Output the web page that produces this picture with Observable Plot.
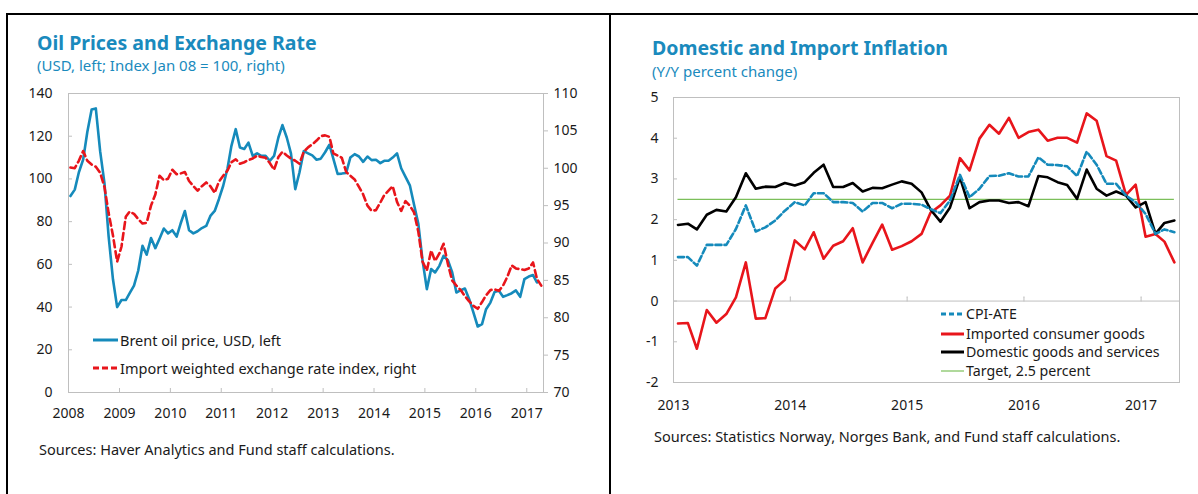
<!DOCTYPE html>
<html><head><meta charset="utf-8">
<script src="https://cdn.jsdelivr.net/npm/d3@7"></script>
<script src="https://cdn.jsdelivr.net/npm/@observablehq/plot@0.6"></script>
<style>
body{margin:0;background:#fff;font-family:"Noto Sans",sans-serif;color:#1a1a1a;}
#page{position:relative;width:1198px;height:494px;overflow:hidden;background:#fff;}
.bar{position:absolute;background:#000;}
.title{position:absolute;font-weight:bold;color:#1a8abd;font-size:19.5px;white-space:nowrap;line-height:1;}
.sub{position:absolute;color:#1a8abd;font-size:15px;white-space:nowrap;line-height:1;}
.src{position:absolute;font-size:14.5px;white-space:nowrap;line-height:1;color:#1a1a1a;}
.chart{position:absolute;}
.item{position:absolute;display:flex;align-items:center;white-space:nowrap;line-height:1;}
.item svg{display:block;margin-right:2px;}
</style>
</head><body>
<div id="page"></div>
<script>
// ---------------- data ----------------
// Left: monthly, starting January 2008
const oilStart = [2008, 0];
const brentOil = [92,95,103,109,122,132.5,133,113,98,73,53,40,
  43.3,43.3,46.5,50,57,68.7,64.5,72.3,67.6,72,76.8,74.5,
  76,73,79,85,76,74.5,75.5,77,78,82.7,85,90.5,
  96.8,105,115.5,123.3,114.7,114,117,110.8,112,110.8,110.8,108.5,
  110.8,119.4,125.2,119.4,112,95.2,103,113,112,111,109,109.5,
  112.5,116,109.5,102.3,102.5,102.8,110,111.6,110.5,108,110.5,108.8,
  109,107.4,108.5,108.5,110,112,105,101,97,88,79,62,
  48.4,57.8,56.2,59.3,64,62,56.5,46.8,47.9,48.7,43.7,37.5,
  30.9,32,39,42.1,47.1,47.6,44.8,45.6,46.5,47.8,44.8,53.1,
  54.3,55,51.5];
const exchangeRate = [100.1,100.0,101.0,102.3,101.0,100.5,100.2,99.4,97.5,94.0,91.0,87.5,
  89.5,93.5,94.2,93.9,93.2,92.6,92.7,95.0,96.5,99.0,98.4,98.6,
  99.8,99.2,99.3,99.5,98.3,97.6,97.0,97.6,98.1,97.6,96.7,98.2,
  99.0,99.7,100.8,101.2,100.6,100.8,101.1,101.3,101.7,101.5,101.4,100.7,
  99.8,101.5,102.2,101.7,101.3,101.0,100.6,102.2,102.8,103.2,103.7,104.3,
  104.4,104.2,102.0,101.7,101.4,99.5,99.0,98.5,97.5,96.5,95.0,94.3,
  94.4,95.4,96.4,97.0,97.6,95.5,94.3,95.6,95.0,94.1,91.5,87.5,
  86.3,89.0,87.6,88.6,89.9,87.2,85.0,84.3,83.7,82.9,82.2,81.6,
  81.2,82.1,83.0,83.7,83.8,83.6,84.3,85.5,87.0,86.6,86.5,86.4,
  86.6,87.4,85.2,84.3];
const leftYears = [2008,2009,2010,2011,2012,2013,2014,2015,2016,2017];
const leftDomainEnd = [2017, 4];
const oilTicks = [0,20,40,60,80,100,120,140];
const rateTicks = [70,75,80,85,90,95,100,105,110];

// Right: monthly, starting January 2013
const inflStart = [2013, 0];
const cpiAte = [1.08,1.08,0.87,1.38,1.38,1.38,1.77,2.35,1.71,1.81,1.98,2.22,
  2.43,2.35,2.65,2.65,2.43,2.43,2.41,2.20,2.41,2.41,2.28,2.39,
  2.39,2.37,2.26,2.16,2.47,3.10,2.55,2.76,3.07,3.08,3.14,3.06,
  3.06,3.53,3.35,3.34,3.31,3.07,3.67,3.35,2.88,2.88,2.59,2.43,
  2.14,1.65,1.76,1.69];
const importedGoods = [-0.55,-0.54,-1.17,-0.22,-0.53,-0.32,0.09,0.95,-0.43,-0.42,0.31,0.52,
  1.49,1.27,1.69,1.04,1.36,1.47,1.79,0.95,1.43,1.88,1.26,1.35,
  1.47,1.65,2.17,2.35,2.59,3.51,3.21,3.99,4.33,4.11,4.50,4.01,
  4.15,4.21,3.94,4.01,4.01,3.89,4.61,4.43,3.56,3.45,2.61,2.86,
  1.58,1.65,1.46,0.95];
const domesticGoods = [1.87,1.90,1.76,2.12,2.24,2.20,2.55,3.14,2.76,2.81,2.80,2.90,
  2.84,2.92,3.15,3.35,2.80,2.80,2.90,2.69,2.78,2.77,2.86,2.94,
  2.88,2.67,2.25,1.95,2.30,3.04,2.28,2.43,2.47,2.47,2.41,2.43,
  2.33,3.07,3.04,2.92,2.85,2.51,3.23,2.76,2.59,2.69,2.59,2.30,
  2.43,1.65,1.92,1.98];
const target = 2.5;
const rightYears = [2013,2014,2015,2016,2017];
const rightDomainEnd = [2017, 4];
const inflTicks = [-2,-1,0,1,2,3,4,5];

// ---------------- helpers ----------------
const monthDate = (start, i) => new Date(Date.UTC(start[0], start[1] + i, 15));
const yearDate = y => new Date(Date.UTC(y, 0, 1));
const toRows = (start, arr) => arr.map((v, i) => ({date: monthDate(start, i), value: v}));
const yearFmt = d => String(d.getUTCFullYear());

const BLUE = "#158abb", RED = "#e8151b", GREEN = "#7bbf5a", GRAY = "#bfbfbf", TXT = "#1a1a1a";
const baseStyle = {fontFamily: "Noto Sans", fontSize: "14px", color: TXT, background: "transparent", overflow: "visible"};

const page = document.getElementById("page");
function add(html) { page.insertAdjacentHTML("beforeend", html); }
function place(node, left, top) { node.classList.add("chart"); node.style.left = left + "px"; node.style.top = top + "px"; page.appendChild(node); }

// frame lines
add('<div class="bar" style="left:6px;top:13px;width:1192px;height:2px"></div>');
add('<div class="bar" style="left:6px;top:13px;width:2px;height:481px"></div>');
add('<div class="bar" style="left:609px;top:13px;width:2px;height:481px"></div>');

// titles
add('<div class="title" style="left:37px;top:33px">Oil Prices and Exchange Rate</div>');
add('<div class="sub" style="left:37px;top:58px">(USD, left; Index Jan 08 = 100, right)</div>');
add('<div class="title" style="left:652px;top:38px">Domestic and Import Inflation</div>');
add('<div class="sub" style="left:652px;top:64px">(Y/Y percent change)</div>');
add('<div class="src" style="left:39px;top:442px">Sources: Haver Analytics and Fund staff calculations.</div>');
add('<div class="src" style="left:654px;top:429px">Sources: Statistics Norway, Norges Bank, and Fund staff calculations.</div>');

// ---------------- left chart ----------------
const L = {width: 605, height: 350, marginLeft: 68, marginRight: 62, marginTop: 13, marginBottom: 38};
const leftX = {type: "utc", domain: [yearDate(leftYears[0]), new Date(Date.UTC(leftDomainEnd[0], leftDomainEnd[1], 1))]};
const oilRows = toRows(oilStart, brentOil);
const rateRows = toRows(oilStart, exchangeRate);

const leftBase = Plot.plot({
  ...L, style: baseStyle,
  x: leftX,
  y: {domain: [oilTicks[0], oilTicks[oilTicks.length - 1]]},
  marks: [
    Plot.frame({stroke: GRAY}),
    Plot.axisY(oilTicks, {anchor: "left", tickSize: -4, tickPadding: 20, stroke: GRAY, fill: TXT, tickFormat: d => String(d), label: null}),
    Plot.axisX(leftYears.map(yearDate), {anchor: "bottom", tickSize: -4, tickPadding: 20, stroke: GRAY, fill: TXT, tickFormat: yearFmt, label: null}),
    Plot.lineY(oilRows, {x: "date", y: "value", stroke: BLUE, strokeWidth: 2.6})
  ]
});
place(leftBase, 0, 80);

const leftOver = Plot.plot({
  ...L, style: baseStyle,
  x: {...leftX, axis: null},
  y: {domain: [rateTicks[0], rateTicks[rateTicks.length - 1]]},
  marks: [
    Plot.axisY(rateTicks, {anchor: "right", tickSize: 4, tickPadding: 6, stroke: GRAY, fill: TXT, tickFormat: d => String(d), label: null}),
    Plot.lineY(rateRows, {x: "date", y: "value", stroke: RED, strokeWidth: 2.6, strokeDasharray: "7,4"})
  ]
});
place(leftOver, 0, 80);

function legendItem(left, top, size, w, sw, label) {
  return `<div class="item" style="left:${left}px;top:${top}px;font-size:${size}px;height:${size}px"><svg width="${w}" height="10">${sw}</svg><span>${label}</span></div>`;
}
const seg = (w, color, width, dash) => `<line x1="0" x2="${w}" y1="5" y2="5" stroke="${color}" stroke-width="${width}"${dash ? ` stroke-dasharray="${dash}"` : ""}/>`;
add(legendItem(93, 333, 14.5, 25, seg(25, BLUE, 3), "Brent oil price, USD, left"));
add(legendItem(93, 361, 14.5, 25, seg(25, RED, 3, "6,3"), "Import weighted exchange rate index, right"));

// ---------------- right chart ----------------
const R = {width: 586, height: 350, marginLeft: 61, marginRight: 19, marginTop: 17, marginBottom: 48};
const cpiRows = toRows(inflStart, cpiAte);
const impRows = toRows(inflStart, importedGoods);
const domRows = toRows(inflStart, domesticGoods);
const firstM = monthDate(inflStart, 0), lastM = monthDate(inflStart, cpiAte.length - 1);

const right = Plot.plot({
  ...R, style: baseStyle,
  x: {type: "utc", domain: [yearDate(rightYears[0]), new Date(Date.UTC(rightDomainEnd[0], rightDomainEnd[1], 1))]},
  y: {domain: [inflTicks[0], inflTicks[inflTicks.length - 1]]},
  marks: [
    Plot.frame({stroke: GRAY}),
    Plot.ruleY([0], {stroke: GRAY}),
    Plot.vector(rightYears.map(yearDate), {x: d => d, y: 0, length: 4, rotate: 0, anchor: "start", stroke: GRAY, strokeWidth: 1, shape: "arrow", r: 0}),
    Plot.axisY(inflTicks, {anchor: "left", tickSize: -4, tickPadding: 19, stroke: GRAY, fill: TXT, tickFormat: d => String(d), label: null}),
    Plot.axisX(rightYears.map(yearDate), {anchor: "bottom", tickSize: 0, tickPadding: 18, fill: TXT, tickFormat: yearFmt, label: null}),
    Plot.ruleY([target], {x1: firstM, x2: lastM, stroke: GREEN, strokeWidth: 1.2}),
    Plot.lineY(impRows, {x: "date", y: "value", stroke: RED, strokeWidth: 2.6}),
    Plot.lineY(domRows, {x: "date", y: "value", stroke: "#000", strokeWidth: 2.6}),
    Plot.lineY(cpiRows, {x: "date", y: "value", stroke: BLUE, strokeWidth: 2.6, strokeDasharray: "6,3"})
  ]
});
place(right, 612, 80);

add(legendItem(941, 307, 14.2, 23, seg(23, BLUE, 3, "5,3"), "CPI-ATE"));
add(legendItem(941, 327, 14.2, 23, seg(23, RED, 3), "Imported consumer goods"));
add(legendItem(941, 345, 14.2, 23, seg(23, "#000", 3), "Domestic goods and services"));
add(legendItem(941, 364, 14.2, 23, seg(23, GREEN, 1.2), "Target, 2.5 percent"));
</script>
</body></html>
